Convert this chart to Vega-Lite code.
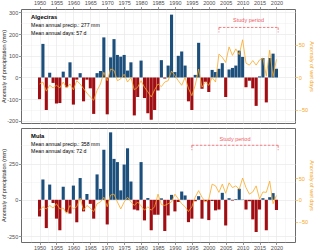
{
"$schema": "https://vega.github.io/schema/vega-lite/v6.json",
"padding": {"left": 0, "top": 0, "right": 0, "bottom": 0},
"background": "white",
"spacing": 2,
"datasets": {
"rows": [
{"station":"Algeciras","kind":"bar","year":1950,"mm":-100,"days":-10},
{"station":"Algeciras","kind":"bar","year":1951,"mm":155,"days":-7},
{"station":"Algeciras","kind":"bar","year":1952,"mm":-150,"days":-21},
{"station":"Algeciras","kind":"bar","year":1953,"mm":22,"days":-12},
{"station":"Algeciras","kind":"bar","year":1954,"mm":-25,"days":-16},
{"station":"Algeciras","kind":"bar","year":1955,"mm":-120,"days":-12},
{"station":"Algeciras","kind":"bar","year":1956,"mm":-118,"days":-16},
{"station":"Algeciras","kind":"bar","year":1957,"mm":27,"days":-7},
{"station":"Algeciras","kind":"bar","year":1958,"mm":-45,"days":-16},
{"station":"Algeciras","kind":"bar","year":1959,"mm":70,"days":-10},
{"station":"Algeciras","kind":"bar","year":1960,"mm":-125,"days":-19},
{"station":"Algeciras","kind":"bar","year":1961,"mm":-10,"days":-5},
{"station":"Algeciras","kind":"bar","year":1962,"mm":20,"days":-10},
{"station":"Algeciras","kind":"bar","year":1963,"mm":-110,"days":-17},
{"station":"Algeciras","kind":"bar","year":1964,"mm":-10,"days":-24},
{"station":"Algeciras","kind":"bar","year":1965,"mm":-50,"days":-30},
{"station":"Algeciras","kind":"bar","year":1966,"mm":-168,"days":-35},
{"station":"Algeciras","kind":"bar","year":1967,"mm":20,"days":-20},
{"station":"Algeciras","kind":"bar","year":1968,"mm":30,"days":-10},
{"station":"Algeciras","kind":"bar","year":1969,"mm":185,"days":8},
{"station":"Algeciras","kind":"bar","year":1970,"mm":-170,"days":-5},
{"station":"Algeciras","kind":"bar","year":1971,"mm":93,"days":13},
{"station":"Algeciras","kind":"bar","year":1972,"mm":177,"days":11},
{"station":"Algeciras","kind":"bar","year":1973,"mm":104,"days":-5},
{"station":"Algeciras","kind":"bar","year":1974,"mm":96,"days":-2},
{"station":"Algeciras","kind":"bar","year":1975,"mm":104,"days":5},
{"station":"Algeciras","kind":"bar","year":1976,"mm":32,"days":-7},
{"station":"Algeciras","kind":"bar","year":1977,"mm":70,"days":0},
{"station":"Algeciras","kind":"bar","year":1978,"mm":-175,"days":-19},
{"station":"Algeciras","kind":"bar","year":1979,"mm":-90,"days":-15},
{"station":"Algeciras","kind":"bar","year":1980,"mm":78,"days":-5},
{"station":"Algeciras","kind":"bar","year":1981,"mm":-95,"days":-15},
{"station":"Algeciras","kind":"bar","year":1982,"mm":-165,"days":-22},
{"station":"Algeciras","kind":"bar","year":1983,"mm":-195,"days":-30},
{"station":"Algeciras","kind":"bar","year":1984,"mm":-150,"days":-19},
{"station":"Algeciras","kind":"bar","year":1985,"mm":-60,"days":-10},
{"station":"Algeciras","kind":"bar","year":1986,"mm":80,"days":-14},
{"station":"Algeciras","kind":"bar","year":1987,"mm":-5,"days":-7},
{"station":"Algeciras","kind":"bar","year":1988,"mm":55,"days":-5},
{"station":"Algeciras","kind":"bar","year":1989,"mm":290,"days":10},
{"station":"Algeciras","kind":"bar","year":1990,"mm":25,"days":3},
{"station":"Algeciras","kind":"bar","year":1991,"mm":100,"days":-5},
{"station":"Algeciras","kind":"bar","year":1992,"mm":120,"days":-12},
{"station":"Algeciras","kind":"bar","year":1993,"mm":55,"days":0},
{"station":"Algeciras","kind":"bar","year":1994,"mm":-110,"days":-17},
{"station":"Algeciras","kind":"bar","year":1995,"mm":-150,"days":-28},
{"station":"Algeciras","kind":"bar","year":1996,"mm":12,"days":-12},
{"station":"Algeciras","kind":"bar","year":1997,"mm":160,"days":13},
{"station":"Algeciras","kind":"bar","year":1998,"mm":-52,"days":-15},
{"station":"Algeciras","kind":"bar","year":1999,"mm":-20,"days":-7},
{"station":"Algeciras","kind":"bar","year":2000,"mm":-67,"days":-12},
{"station":"Algeciras","kind":"bar","year":2001,"mm":35,"days":0},
{"station":"Algeciras","kind":"bar","year":2002,"mm":25,"days":-7},
{"station":"Algeciras","kind":"bar","year":2003,"mm":40,"days":36},
{"station":"Algeciras","kind":"bar","year":2004,"mm":66,"days":31},
{"station":"Algeciras","kind":"bar","year":2005,"mm":-90,"days":23},
{"station":"Algeciras","kind":"bar","year":2006,"mm":37,"days":47},
{"station":"Algeciras","kind":"bar","year":2007,"mm":44,"days":34},
{"station":"Algeciras","kind":"bar","year":2008,"mm":55,"days":44},
{"station":"Algeciras","kind":"bar","year":2009,"mm":124,"days":35},
{"station":"Algeciras","kind":"bar","year":2010,"mm":95,"days":58},
{"station":"Algeciras","kind":"bar","year":2011,"mm":-45,"days":22},
{"station":"Algeciras","kind":"bar","year":2012,"mm":-15,"days":19},
{"station":"Algeciras","kind":"bar","year":2013,"mm":-50,"days":26},
{"station":"Algeciras","kind":"bar","year":2014,"mm":-131,"days":19},
{"station":"Algeciras","kind":"bar","year":2015,"mm":5,"days":27},
{"station":"Algeciras","kind":"bar","year":2016,"mm":90,"days":30},
{"station":"Algeciras","kind":"bar","year":2017,"mm":-115,"days":2},
{"station":"Algeciras","kind":"bar","year":2018,"mm":90,"days":42},
{"station":"Algeciras","kind":"bar","year":2019,"mm":110,"days":1},
{"station":"Algeciras","kind":"bar","year":2020,"mm":40,"days":28},
{"station":"Algeciras","kind":"span","year":2003,"end":2020.5,"mm":231},
{"station":"Algeciras","kind":"tick","year":2003,"mm":231,"low":208},
{"station":"Algeciras","kind":"tick","year":2020.5,"mm":231,"low":208},
{"station":"Algeciras","kind":"plabel","year":2011.75,"mm":263,"label":"Study period"},
{"station":"Algeciras","kind":"name","year":1947.5,"mm":281,"label":"Algeciras"},
{"station":"Algeciras","kind":"info","year":1947.5,"mm":243,"label":"Mean annual precip.: 277 mm"},
{"station":"Algeciras","kind":"info","year":1947.5,"mm":206,"label":"Mean annual days: 57 d"},
{"station":"Mula","kind":"bar","year":1950,"mm":-115,"days":-24},
{"station":"Mula","kind":"bar","year":1951,"mm":140,"days":-16},
{"station":"Mula","kind":"bar","year":1952,"mm":-195,"days":-21},
{"station":"Mula","kind":"bar","year":1953,"mm":105,"days":-13},
{"station":"Mula","kind":"bar","year":1954,"mm":-22,"days":-19},
{"station":"Mula","kind":"bar","year":1955,"mm":-130,"days":-9},
{"station":"Mula","kind":"bar","year":1956,"mm":-210,"days":-21},
{"station":"Mula","kind":"bar","year":1957,"mm":90,"days":-19},
{"station":"Mula","kind":"bar","year":1958,"mm":-85,"days":-31},
{"station":"Mula","kind":"bar","year":1959,"mm":-95,"days":-13},
{"station":"Mula","kind":"bar","year":1960,"mm":98,"days":-21},
{"station":"Mula","kind":"bar","year":1961,"mm":-155,"days":-16},
{"station":"Mula","kind":"bar","year":1962,"mm":150,"days":4},
{"station":"Mula","kind":"bar","year":1963,"mm":-80,"days":-24},
{"station":"Mula","kind":"bar","year":1964,"mm":40,"days":-13},
{"station":"Mula","kind":"bar","year":1965,"mm":-28,"days":-19},
{"station":"Mula","kind":"bar","year":1966,"mm":-130,"days":-27},
{"station":"Mula","kind":"bar","year":1967,"mm":175,"days":-9},
{"station":"Mula","kind":"bar","year":1968,"mm":75,"days":-5},
{"station":"Mula","kind":"bar","year":1969,"mm":345,"days":6},
{"station":"Mula","kind":"bar","year":1970,"mm":-170,"days":-16},
{"station":"Mula","kind":"bar","year":1971,"mm":465,"days":11},
{"station":"Mula","kind":"bar","year":1972,"mm":282,"days":13},
{"station":"Mula","kind":"bar","year":1973,"mm":260,"days":-5},
{"station":"Mula","kind":"bar","year":1974,"mm":65,"days":-21},
{"station":"Mula","kind":"bar","year":1975,"mm":243,"days":-5},
{"station":"Mula","kind":"bar","year":1976,"mm":355,"days":6},
{"station":"Mula","kind":"bar","year":1977,"mm":126,"days":-5},
{"station":"Mula","kind":"bar","year":1978,"mm":-67,"days":-13},
{"station":"Mula","kind":"bar","year":1979,"mm":-73,"days":-5},
{"station":"Mula","kind":"bar","year":1980,"mm":260,"days":-14},
{"station":"Mula","kind":"bar","year":1981,"mm":-142,"days":-24},
{"station":"Mula","kind":"bar","year":1982,"mm":12,"days":-16},
{"station":"Mula","kind":"bar","year":1983,"mm":-210,"days":-24},
{"station":"Mula","kind":"bar","year":1984,"mm":-103,"days":-16},
{"station":"Mula","kind":"bar","year":1985,"mm":-103,"days":13},
{"station":"Mula","kind":"bar","year":1986,"mm":10,"days":-11},
{"station":"Mula","kind":"bar","year":1987,"mm":-215,"days":-13},
{"station":"Mula","kind":"bar","year":1988,"mm":-108,"days":-9},
{"station":"Mula","kind":"bar","year":1989,"mm":34,"days":-5},
{"station":"Mula","kind":"bar","year":1990,"mm":-80,"days":13},
{"station":"Mula","kind":"bar","year":1991,"mm":-15,"days":2},
{"station":"Mula","kind":"bar","year":1992,"mm":57,"days":-9},
{"station":"Mula","kind":"bar","year":1993,"mm":30,"days":-16},
{"station":"Mula","kind":"bar","year":1994,"mm":-154,"days":-27},
{"station":"Mula","kind":"bar","year":1995,"mm":-130,"days":-16},
{"station":"Mula","kind":"bar","year":1996,"mm":-10,"days":6},
{"station":"Mula","kind":"bar","year":1997,"mm":25,"days":21},
{"station":"Mula","kind":"bar","year":1998,"mm":-130,"days":6},
{"station":"Mula","kind":"bar","year":1999,"mm":-10,"days":-5},
{"station":"Mula","kind":"bar","year":2000,"mm":-140,"days":1},
{"station":"Mula","kind":"bar","year":2001,"mm":-8,"days":36},
{"station":"Mula","kind":"bar","year":2002,"mm":-73,"days":32},
{"station":"Mula","kind":"bar","year":2003,"mm":-67,"days":17},
{"station":"Mula","kind":"bar","year":2004,"mm":48,"days":36},
{"station":"Mula","kind":"bar","year":2005,"mm":-177,"days":15},
{"station":"Mula","kind":"bar","year":2006,"mm":11,"days":39},
{"station":"Mula","kind":"bar","year":2007,"mm":-5,"days":28},
{"station":"Mula","kind":"bar","year":2008,"mm":5,"days":32},
{"station":"Mula","kind":"bar","year":2009,"mm":76,"days":24},
{"station":"Mula","kind":"bar","year":2010,"mm":2,"days":50},
{"station":"Mula","kind":"bar","year":2011,"mm":-67,"days":28},
{"station":"Mula","kind":"bar","year":2012,"mm":-10,"days":13},
{"station":"Mula","kind":"bar","year":2013,"mm":-135,"days":18},
{"station":"Mula","kind":"bar","year":2014,"mm":-222,"days":32},
{"station":"Mula","kind":"bar","year":2015,"mm":-67,"days":2},
{"station":"Mula","kind":"bar","year":2016,"mm":11,"days":18},
{"station":"Mula","kind":"bar","year":2017,"mm":-210,"days":17},
{"station":"Mula","kind":"bar","year":2018,"mm":18,"days":43},
{"station":"Mula","kind":"bar","year":2019,"mm":46,"days":-9},
{"station":"Mula","kind":"bar","year":2020,"mm":-70,"days":10},
{"station":"Mula","kind":"span","year":1995,"end":2020.5,"mm":376},
{"station":"Mula","kind":"tick","year":1995,"mm":376,"low":342},
{"station":"Mula","kind":"tick","year":2020.5,"mm":376,"low":342},
{"station":"Mula","kind":"plabel","year":2007.75,"mm":418,"label":"Study period"},
{"station":"Mula","kind":"name","year":1947.5,"mm":443,"label":"Mula"},
{"station":"Mula","kind":"info","year":1947.5,"mm":388,"label":"Mean annual precip.: 358 mm"},
{"station":"Mula","kind":"info","year":1947.5,"mm":333,"label":"Mean annual days: 72 d"}
]
},
"config": {
"font": "Liberation Sans",
"view": {"stroke": "#6b6b6b", "strokeWidth": 1},
"axis": {"labelFont": "Liberation Sans", "labelFontSize": 5.5, "labelColor": "#4d4d4d", "labelOverlap": false, "labelFlush": false, "labelSeparation": 0, "labelBound": false, "titleFont": "Liberation Sans", "titleFontSize": 5.5, "titleFontWeight": "normal", "titleColor": "#1a1a1a", "tickColor": "#4d4d4d", "tickSize": 2.5, "tickWidth": 0.6, "labelPadding": 0.8, "titlePadding": 0.5, "domain": false, "gridColor": "#e8e8e8", "gridWidth": 0.7}
},
"vconcat": [
{
"width": 274, "height": 114,
"data": {"name": "rows"},
"transform": [{"filter": "datum.station === 'Algeciras'"}],
"encoding": {
 "x": {"field": "year", "type": "quantitative", "title": null, "scale": {"domain": [1946, 2024], "nice": false, "zero": false},
  "axis": {"orient": "top", "title": null, "labelOverlap": false, "labelFlush": false,
   "values": [1947.5,1950,1952.5,1955,1957.5,1960,1962.5,1965,1967.5,1970,1972.5,1975,1977.5,1980,1982.5,1985,1987.5,1990,1992.5,1995,1997.5,2000,2002.5,2005,2007.5,2010,2012.5,2015,2017.5,2020,2022.5],
   "labelExpr": "datum.value % 5 === 0 ? '' + datum.value : ''",
   "tickOpacity": {"condition": {"test": "datum.value % 5 !== 0", "value": 0}, "value": 1},
   "gridWidth": {"condition": {"test": "datum.value % 5 !== 0", "value": 0.35}, "value": 0.7}}}
},
"layer": [
{
"encoding": {
 "y": {"field": "mm", "type": "quantitative", "title": "Anomaly of precipitation (mm)", "scale": {"domain": [-210, 316], "nice": false},
  "axis": {"title": "Anomaly of precipitation (mm)", "labelOverlap": false,
   "values": [-200,-150,-100,-50,0,50,100,150,200,250,300],
   "labelExpr": "datum.value % 100 === 0 ? '' + datum.value : ''",
   "tickOpacity": {"condition": {"test": "datum.value % 100 !== 0", "value": 0}, "value": 1},
   "gridWidth": {"condition": {"test": "datum.value % 100 !== 0", "value": 0.35}, "value": 0.7}}}
},
"layer": [
{"transform": [{"filter": "datum.kind === 'bar'"}],
 "mark": {"type": "bar", "size": 3.1},
 "encoding": {"color": {"condition": {"test": "datum.mm >= 0", "value": "#1d4f7c"}, "value": "#a00d12"}}},
{"transform": [{"filter": "datum.kind === 'span'"}],
 "mark": {"type": "rule", "color": "#ee5a5f", "strokeDash": [2.5, 1.5], "strokeWidth": 0.8},
 "encoding": {"x2": {"field": "end"}}},
{"transform": [{"filter": "datum.kind === 'tick'"}],
 "mark": {"type": "rule", "color": "#ee5a5f", "strokeDash": [2.5, 1.5], "strokeWidth": 0.8},
 "encoding": {"y2": {"field": "low"}}},
{"transform": [{"filter": "datum.kind === 'plabel'"}],
 "mark": {"type": "text", "color": "#ee5a5f", "fontSize": 5.5, "align": "center", "baseline": "middle", "font": "Liberation Sans"},
 "encoding": {"text": {"field": "label"}}},
{"transform": [{"filter": "datum.kind === 'name'"}],
 "mark": {"type": "text", "color": "#000000", "fontSize": 5.8, "fontWeight": "bold", "align": "left", "baseline": "middle", "font": "Liberation Sans"},
 "encoding": {"text": {"field": "label"}}},
{"transform": [{"filter": "datum.kind === 'info'"}],
 "mark": {"type": "text", "color": "#000000", "fontSize": 5.2, "align": "left", "baseline": "middle", "font": "Liberation Sans"},
 "encoding": {"text": {"field": "label"}}}
]
},
{"transform": [{"filter": "datum.kind === 'bar'"}],
 "mark": {"type": "line", "color": "#f9a825", "strokeWidth": 0.8},
 "encoding": {
  "y": {"field": "days", "type": "quantitative", "scale": {"domain": [-70, 105.3], "nice": false, "zero": false},
   "axis": {"orient": "right", "title": "Anomaly of wet days", "values": [-50, 0, 50], "grid": false, "labelColor": "#f5a623", "titleColor": "#f5a623", "tickColor": "#f5a623"}}
 }}
],
"resolve": {"scale": {"y": "independent"}}
},
{
"width": 274, "height": 114,
"data": {"name": "rows"},
"transform": [{"filter": "datum.station === 'Mula'"}],
"encoding": {
 "x": {"field": "year", "type": "quantitative", "title": null, "scale": {"domain": [1946, 2024], "nice": false, "zero": false},
  "axis": {"orient": "bottom", "title": null, "labelOverlap": false, "labelFlush": false,
   "values": [1947.5,1950,1952.5,1955,1957.5,1960,1962.5,1965,1967.5,1970,1972.5,1975,1977.5,1980,1982.5,1985,1987.5,1990,1992.5,1995,1997.5,2000,2002.5,2005,2007.5,2010,2012.5,2015,2017.5,2020,2022.5],
   "labelExpr": "datum.value % 5 === 0 ? '' + datum.value : ''",
   "tickOpacity": {"condition": {"test": "datum.value % 5 !== 0", "value": 0}, "value": 1},
   "gridWidth": {"condition": {"test": "datum.value % 5 !== 0", "value": 0.35}, "value": 0.7}}}
},
"layer": [
{
"encoding": {
 "y": {"field": "mm", "type": "quantitative", "title": "Anomaly of precipitation (mm)", "scale": {"domain": [-291, 495], "nice": false},
  "axis": {"title": "Anomaly of precipitation (mm)", "labelOverlap": false,
   "values": [-250,-125,0,125,250,375],
   "labelExpr": "datum.value % 250 === 0 ? '' + datum.value : ''",
   "tickOpacity": {"condition": {"test": "datum.value % 250 !== 0", "value": 0}, "value": 1},
   "gridWidth": {"condition": {"test": "datum.value % 250 !== 0", "value": 0.35}, "value": 0.7}}}
},
"layer": [
{"transform": [{"filter": "datum.kind === 'bar'"}],
 "mark": {"type": "bar", "size": 3.1},
 "encoding": {"color": {"condition": {"test": "datum.mm >= 0", "value": "#1d4f7c"}, "value": "#a00d12"}}},
{"transform": [{"filter": "datum.kind === 'span'"}],
 "mark": {"type": "rule", "color": "#ee5a5f", "strokeDash": [2.5, 1.5], "strokeWidth": 0.8},
 "encoding": {"x2": {"field": "end"}}},
{"transform": [{"filter": "datum.kind === 'tick'"}],
 "mark": {"type": "rule", "color": "#ee5a5f", "strokeDash": [2.5, 1.5], "strokeWidth": 0.8},
 "encoding": {"y2": {"field": "low"}}},
{"transform": [{"filter": "datum.kind === 'plabel'"}],
 "mark": {"type": "text", "color": "#ee5a5f", "fontSize": 5.5, "align": "center", "baseline": "middle", "font": "Liberation Sans"},
 "encoding": {"text": {"field": "label"}}},
{"transform": [{"filter": "datum.kind === 'name'"}],
 "mark": {"type": "text", "color": "#000000", "fontSize": 5.8, "fontWeight": "bold", "align": "left", "baseline": "middle", "font": "Liberation Sans"},
 "encoding": {"text": {"field": "label"}}},
{"transform": [{"filter": "datum.kind === 'info'"}],
 "mark": {"type": "text", "color": "#000000", "fontSize": 5.2, "align": "left", "baseline": "middle", "font": "Liberation Sans"},
 "encoding": {"text": {"field": "label"}}}
]
},
{"transform": [{"filter": "datum.kind === 'bar'"}],
 "mark": {"type": "line", "color": "#f9a825", "strokeWidth": 0.8},
 "encoding": {
  "y": {"field": "days", "type": "quantitative", "scale": {"domain": [-97, 165], "nice": false, "zero": false},
   "axis": {"orient": "right", "title": "Anomaly of wet days", "values": [-50, 0, 50], "grid": false, "labelColor": "#f5a623", "titleColor": "#f5a623", "tickColor": "#f5a623"}}
 }}
],
"resolve": {"scale": {"y": "independent"}}
}
]
}
